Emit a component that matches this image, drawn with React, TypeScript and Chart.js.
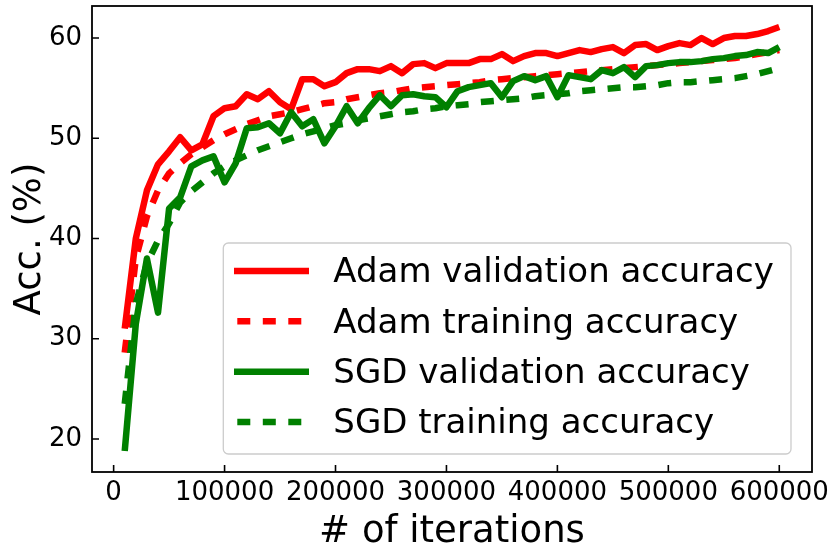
import React, { useEffect, useRef } from 'react';
import { Chart, registerables } from 'chart.js';

Chart.register(...registerables);

const iterations = [
  10000, 20000, 30000, 40000, 50000, 60000, 70000, 80000, 90000, 100000,
  110000, 120000, 130000, 140000, 150000, 160000, 170000, 180000, 190000, 200000,
  210000, 220000, 230000, 240000, 250000, 260000, 270000, 280000, 290000, 300000,
  310000, 320000, 330000, 340000, 350000, 360000, 370000, 380000, 390000, 400000,
  410000, 420000, 430000, 440000, 450000, 460000, 470000, 480000, 490000, 500000,
  510000, 520000, 530000, 540000, 550000, 560000, 570000, 580000, 590000, 600000,
];

const adamValidation = [
  31.0, 40.0, 44.8, 47.4, 48.7, 50.1, 48.8, 49.4, 52.2, 53.0,
  53.2, 54.4, 53.9, 54.7, 53.6, 52.9, 55.9, 55.9, 55.2, 55.6,
  56.5, 56.9, 56.9, 56.7, 57.2, 56.5, 57.4, 57.5, 57.0, 57.5,
  57.5, 57.5, 57.9, 57.9, 58.4, 57.7, 58.2, 58.5, 58.5, 58.2,
  58.5, 58.8, 58.6, 58.9, 59.1, 58.5, 59.3, 59.4, 58.8, 59.2,
  59.5, 59.3, 60.0, 59.4, 60.0, 60.2, 60.2, 60.4, 60.7, 61.1,
];

const adamTraining = [
  28.6, 38.0, 42.2, 44.8, 46.5, 47.5, 48.4, 49.1, 49.8, 50.4,
  50.9, 51.4, 51.8, 52.2, 52.4, 52.6, 52.9, 53.2, 53.5, 53.6,
  53.9, 54.1, 54.3, 54.5, 54.6, 54.8, 55.0, 55.1, 55.2, 55.3,
  55.4, 55.5, 55.6, 55.8, 55.9, 56.0, 56.1, 56.2, 56.3, 56.4,
  56.5, 56.6, 56.7, 56.8, 56.9, 57.0, 57.1, 57.2, 57.3, 57.4,
  57.5, 57.6, 57.7, 57.8, 57.9, 58.0, 58.2, 58.4, 58.6, 58.8,
];

const sgdValidation = [
  18.8, 31.5, 38.0, 32.6, 43.0, 44.1, 47.2, 47.8, 48.2, 45.6,
  47.5, 51.0, 51.1, 51.5, 50.5, 52.6, 51.2, 51.9, 49.5, 51.2,
  53.2, 51.5, 53.0, 54.3, 53.2, 54.3, 54.4, 54.2, 54.1, 53.1,
  54.7, 55.1, 55.3, 55.5, 54.1, 55.7, 56.2, 55.8, 56.2, 54.1,
  56.3, 56.1, 55.9, 56.8, 56.5, 57.1, 56.1, 57.2, 57.3, 57.5,
  57.6, 57.6, 57.7, 57.9, 58.0, 58.2, 58.3, 58.6, 58.5, 59.1,
];

const sgdTraining = [
  23.5, 33.5, 37.5, 39.8, 41.5, 43.6, 44.7, 45.6, 46.5, 47.2,
  47.8, 48.3, 48.8, 49.2, 49.6, 50.0, 50.4, 50.7, 51.0, 51.3,
  51.5, 51.8, 52.0, 52.2, 52.4, 52.6, 52.7, 52.9, 53.0, 53.2,
  53.3, 53.4, 53.6, 53.7, 53.8, 53.9, 54.0, 54.2, 54.3, 54.4,
  54.5, 54.7, 54.8, 54.9, 55.0, 55.1, 55.1, 55.2, 55.3, 55.5,
  55.6, 55.6, 55.7, 55.8, 55.9, 56.0, 56.2, 56.4, 56.7, 57.0,
];

const seriesLabels = [
  'Adam validation accuracy',
  'Adam training accuracy',
  'SGD validation accuracy',
  'SGD training accuracy',
];

const xTickValues = [0, 100000, 200000, 300000, 400000, 500000, 600000];
const yTickValues = [20, 30, 40, 50, 60];

const FONT = '"DejaVu Sans", sans-serif';
const DASH = [13, 12.5];

export default function App() {
  const ref = useRef<HTMLCanvasElement>(null);

  useEffect(() => {
    const canvas = ref.current;
    if (!canvas) return;

    const seriesValues = [adamValidation, adamTraining, sgdValidation, sgdTraining];
    const styles = [
      { color: '#ff0000', dash: [] as number[] },
      { color: '#ff0000', dash: DASH },
      { color: '#008000', dash: [] as number[] },
      { color: '#008000', dash: DASH },
    ];

    const datasets = seriesValues.map((vals, i) => ({
      label: seriesLabels[i],
      data: vals.map((y, k) => ({ x: iterations[k], y })),
      borderColor: styles[i].color,
      backgroundColor: styles[i].color,
      borderWidth: 6.5,
      borderDash: styles[i].dash,
      borderJoinStyle: 'round' as const,
      pointRadius: 0,
      pointHoverRadius: 0,
      tension: 0,
      fill: false,
      order: 4 - i,
    }));

    const framePlugin = {
      id: 'frameAndLegend',
      afterDraw(chart: any) {
        const { ctx, chartArea: a, scales } = chart;
        ctx.save();
        // inward tick marks
        ctx.strokeStyle = '#000';
        ctx.lineWidth = 1.6;
        ctx.setLineDash([]);
        ctx.beginPath();
        for (const v of xTickValues) {
          const px = scales.x.getPixelForValue(v);
          ctx.moveTo(px, a.bottom);
          ctx.lineTo(px, a.bottom - 7);
        }
        for (const v of yTickValues) {
          const py = scales.y.getPixelForValue(v);
          ctx.moveTo(a.left, py);
          ctx.lineTo(a.left + 7, py);
        }
        ctx.stroke();
        // frame
        ctx.lineWidth = 1.8;
        ctx.strokeRect(a.left, a.top, a.right - a.left, a.bottom - a.top);

        // legend
        const boxW = 567.7;
        const boxH = 211;
        const bx = a.right - 21 - boxW;
        const by = a.bottom - 18 - boxH;
        ctx.beginPath();
        if ((ctx as any).roundRect) {
          (ctx as any).roundRect(bx, by, boxW, boxH, 5);
        } else {
          ctx.rect(bx, by, boxW, boxH);
        }
        ctx.fillStyle = 'rgba(255,255,255,0.8)';
        ctx.fill();
        ctx.strokeStyle = '#cccccc';
        ctx.lineWidth = 1.3;
        ctx.stroke();

        ctx.font = `34px ${FONT}`;
        ctx.textBaseline = 'middle';
        ctx.textAlign = 'left';
        seriesLabels.forEach((label, i) => {
          const y = by + 28 + i * 50.33;
          ctx.beginPath();
          ctx.strokeStyle = styles[i].color;
          ctx.lineWidth = 6.5;
          ctx.lineCap = 'butt';
          ctx.setLineDash(styles[i].dash);
          ctx.lineDashOffset = styles[i].dash.length ? 22.2 : 0;
          ctx.moveTo(bx + 10.7, y);
          ctx.lineTo(bx + 85.7, y);
          ctx.stroke();
          ctx.setLineDash([]);
          ctx.fillStyle = '#000';
          ctx.fillText(label, bx + 110, y + 2.5);
        });
        ctx.restore();
      },
    };

    const chart = new Chart(canvas, {
      type: 'line',
      data: { datasets },
      options: {
        responsive: false,
        animation: false,
        events: [],
        layout: { padding: { left: 0, right: 18, top: 6, bottom: 0 } },
        plugins: {
          legend: { display: false },
          tooltip: { enabled: false },
        },
        scales: {
          x: {
            type: 'linear',
            position: 'bottom',
            min: -19500,
            max: 629500,
            grid: { display: false, drawTicks: false },
            border: { display: false },
            afterBuildTicks: (s: any) => {
              s.ticks = xTickValues.map((v) => ({ value: v }));
            },
            afterFit: (s: any) => {
              s.height = 77;
              s.paddingLeft = 0;
              s.paddingRight = 0;
            },
            ticks: {
              autoSkip: false,
              maxRotation: 0,
              minRotation: 0,
              padding: 6,
              color: '#000',
              font: { family: FONT, size: 26 },
              callback: (v: any) => String(v),
            },
            title: {
              display: true,
              text: '# of iterations',
              color: '#000',
              font: { family: FONT, size: 37, lineHeight: 0.9 },
              padding: { top: 0, bottom: 0 },
            },
          },
          y: {
            type: 'linear',
            position: 'left',
            min: 16.7,
            max: 63.2,
            grid: { display: false, drawTicks: false },
            border: { display: false },
            afterBuildTicks: (s: any) => {
              s.ticks = yTickValues.map((v) => ({ value: v }));
            },
            afterFit: (s: any) => {
              s.width = 92;
              s.paddingTop = 0;
              s.paddingBottom = 0;
            },
            ticks: {
              padding: 10,
              color: '#000',
              font: { family: FONT, size: 26 },
              callback: (v: any) => String(v),
            },
            title: {
              display: true,
              text: 'Acc. (%)',
              color: '#000',
              font: { family: FONT, size: 37, lineHeight: 1.1 },
              padding: { top: 10, bottom: 0 },
            },
          },
        },
      },
      plugins: [framePlugin],
    });

    return () => chart.destroy();
  }, []);

  return (
    <canvas
      ref={ref}
      width={830}
      height={549}
      style={{ position: 'fixed', left: 0, top: 0, width: 830, height: 549 }}
    />
  );
}
